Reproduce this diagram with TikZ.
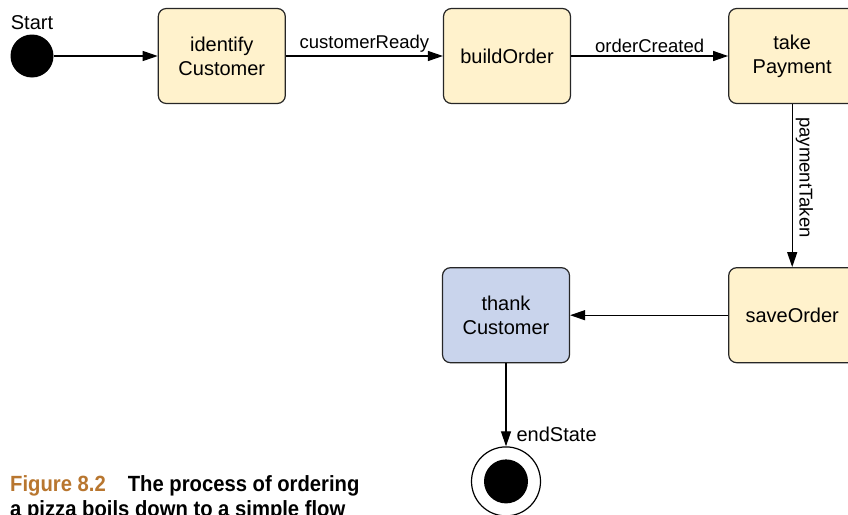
\documentclass[tikz,border=0pt]{standalone}
\usepackage{fontspec}
\setmainfont{Liberation Sans}
\newfontfamily\capfont[FakeStretch=0.92]{Liberation Sans}
\usepackage{tikz}
\usetikzlibrary{arrows.meta,positioning}
\definecolor{StateFill}{HTML}{FFF2CC}
\definecolor{DoneFill}{HTML}{C9D4EC}
\definecolor{CapBrown}{HTML}{B8762F}

\begin{document}
\begin{tikzpicture}[
    font=\fontsize{20}{24}\selectfont,
    state/.style={rounded corners=8pt, draw=black!85, line width=1.2pt, fill=StateFill, align=center, minimum width=127pt, minimum height=95pt, inner sep=0pt},
    lbl/.style={font=\fontsize{18.5}{22}\selectfont, inner sep=3pt},
    arrow/.style={-{Triangle[length=15pt, width=10pt]}, line width=1.2pt},
    capline/.style={anchor=base west, inner sep=0pt, font=\capfont\bfseries\fontsize{22}{25}\selectfont},
  ]
    \useasboundingbox (0pt,0pt) rectangle (848pt,-514pt);

    % ---- start ----
    \node[circle, fill=black, minimum size=43pt, inner sep=0pt] (start) at (32pt,-56pt) {};
    \node[above=1pt of start] (startlbl) {Start};

    % ---- top row ----
    \node[state, right=104pt of start] (identify) {identify\\Customer};
    \node[state, right=157pt of identify] (build) {buildOrder};
    \node[state, right=157pt of build] (take) {take\\Payment};

    % ---- bottom row ----
    \node[state, below=163pt of take] (save) {saveOrder};
    \node[state, fill=DoneFill, left=158pt of save] (thank) {thank\\Customer};

    % ---- end ----
    \node[circle, draw=black, line width=1.2pt, fill=white, minimum size=69pt, inner sep=0pt, below=83pt of thank] (stop) {};
    \node[circle, fill=black, minimum size=44pt, inner sep=0pt] (stopdot) at (stop) {};

    % ---- arrows ----
    \draw[arrow] (start) -- (identify);
    \draw[arrow] (identify) -- node[lbl, above] {customerReady} (build);
    \draw[arrow] (build) -- node[lbl, above] {orderCreated} (take);
    \draw[arrow] (take) -- node[lbl, pos=0.45, rotate=-90, anchor=south] {paymentTaken} (save);
    \draw[arrow] (save) -- (thank);
    \draw[arrow] (thank) -- node[lbl, pos=0.86, right, xshift=7pt, font=\fontsize{20}{24}\selectfont] {endState} (stop);

    % ---- caption ----
    \node[capline] (capline1) at (10pt,-491.7pt) {\textcolor{CapBrown}{Figure 8.2}\hspace{22pt}The process of ordering};
    \node[capline] (capline2) at (10pt,-516.5pt) {a pizza boils down to a simple flow};
  \end{tikzpicture}
\end{document}
